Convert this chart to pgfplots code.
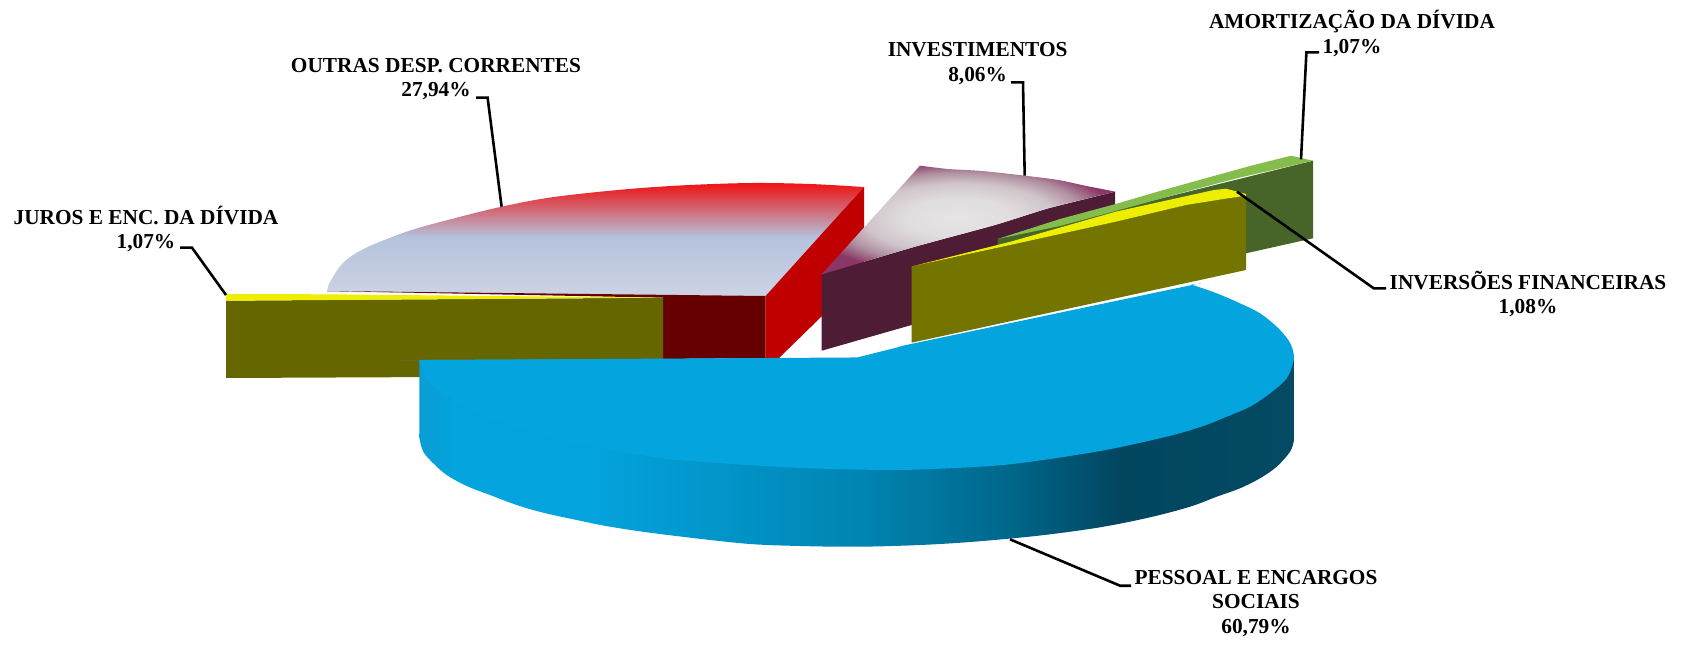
\documentclass[border=0pt]{standalone}
\usepackage{fontspec}
\setmainfont{Liberation Serif}
\usepackage{pgfplots}
\pgfplotsset{compat=1.18}
\definecolor{blueTop}{HTML}{04A4DE}
\definecolor{redSide}{HTML}{C00000}
\definecolor{redDark}{HTML}{660000}
\definecolor{oliveA}{HTML}{666600}
\definecolor{oliveB}{HTML}{747400}
\definecolor{yel}{HTML}{EEEE00}
\definecolor{plumDark}{HTML}{4F1C36}
\definecolor{greenL}{HTML}{84BD4B}
\definecolor{greenD}{HTML}{476429}
\definecolor{c1}{HTML}{CCD3E3}\definecolor{c2}{HTML}{B5C3DE}\definecolor{c3}{HTML}{EE1111}
\pgfdeclareverticalshading{redtop}{100bp}{color(0bp)=(c1);color(25bp)=(c1);color(51bp)=(c2);color(75bp)=(c3);color(100bp)=(c3)}
\definecolor{p1}{HTML}{E6E4E5}\definecolor{p2}{HTML}{E0DDDE}\definecolor{p3}{HTML}{CFC4CA}\definecolor{p4}{HTML}{B090A0}\definecolor{p5}{HTML}{8A3666}
\pgfdeclareradialshading{plumtop}{\pgfpoint{-1.8bp}{1.4bp}}{color(0bp)=(p1);color(9bp)=(p2);color(16bp)=(p3);color(21bp)=(p4);color(26bp)=(p5);color(50bp)=(p5)}
\definecolor{b0}{HTML}{0A9DD5}\definecolor{b1}{HTML}{03A3DD}\definecolor{b2}{HTML}{0085B3}\definecolor{b3}{HTML}{00688C}\definecolor{b4}{HTML}{024660}\definecolor{b5}{HTML}{044A63}
\pgfdeclarehorizontalshading{blueside}{100bp}{color(0bp)=(b0);color(25bp)=(b0);color(27bp)=(b1);color(35bp)=(b1);color(50bp)=(b2);color(58.4bp)=(b3);color(65bp)=(b4);color(75bp)=(b5);color(100bp)=(b5)}
\begin{document}
\begin{tikzpicture}
\useasboundingbox (0,0) rectangle (1686bp,651bp);
\begin{axis}[
  at={(0,0)},anchor=south west,
  width=1686bp,height=651bp,scale only axis,
  xmin=0,xmax=1686,ymin=0,ymax=651,y dir=reverse,
  hide axis,clip=true,
  every axis plot/.append style={no markers,forget plot},
]
% red slice: top, front, side
\addplot[draw=none,shade,shading=redtop,smooth,tension=0.55] coordinates {
(327,292)(327,292)(329.5,283)(343,263)(365.6,248)(408.6,231)(451.6,219)(501.6,206.7)(553.8,197)(629,189)(690,185)(752.7,183)(810,184)(864,187)(864,187)} -- (765.6,296) -- cycle;
\addplot[fill=redDark,draw=none] coordinates {(327,291)(765.6,296)(765.6,358)(663,359)(663,297.7)};
\addplot[fill=redSide,draw=none] coordinates {(765.6,296)(864,187)(864,275)(779,358)(765.6,358)} -- cycle;
% plum slice
\addplot[fill=plumDark,draw=none] coordinates {(821.7,274.3)(915,246.7)(995,225)(1048.3,208.3)(1115,191.7)(1115,206.7)(911.5,325)(821.7,350.7)} -- cycle;
\addplot[draw=none,shade,shading=plumtop,smooth,tension=0.55] coordinates {
(920,165.7)(920,165.7)(948.3,169)(981.7,171)(1025,175.7)(1058.3,180)(1085,185.7)(1108,190.2)(1115,191.7)(1115,191.7)(1108,193.4)(1048.3,208.3)(995,225)(915,246.7)(832,271.3)(821.7,274.3)(821.7,274.3)} -- cycle;
% green slice
\addplot[fill=greenD,draw=none] coordinates {(997.5,239)(1313,160.7)(1313,238.3)(1246,253.3)(997.5,300)} -- cycle;
\addplot[fill=greenL,draw=none] coordinates {(997.5,239)(1060,219)(1115.7,204)(1160,191)(1203,179)(1250,166)(1291,155.7)(1313,160.7)(1238,178)(1186,191.7)(1115.7,211)(1060,226)} -- cycle;
% inversoes slice
\addplot[fill=oliveB,draw=none] coordinates {(911.5,266.7)(1010,245)(1115.7,221.7)(1186,205)(1228,198.3)(1246,195)(1246,270)(911.5,342.7)} -- cycle;
\addplot[fill=yel,draw=none] coordinates {(911.5,266.5)(1010.5,241.7)(1115.7,211.7)(1214,190)(1226,188.7)(1246,194)(1246,195.7)(1228,198.3)(1186,205)(1115.7,221.7)(1010,245)} -- cycle;
% juros slice
\addplot[fill=oliveA,draw=none] coordinates {(226,300.7)(663,297.7)(663,376)(226,378)} -- cycle;
\addplot[fill=yel,draw=none] coordinates {(226,294)(327,294.3)(663,297.7)(226,300.7)} -- cycle;
% pessoal slice
\addplot[draw=none,shade,shading=blueside,smooth,tension=0.55] coordinates {
(419.3,360)(419.3,360)(419.3,370)(419.3,430)(419.3,437.3)(423.3,451.7)(433.3,463.3)(446.7,475)(466.7,486)(490,495)(516.7,505)(543.3,512.7)(576.7,520)(610,526.7)(660,534)(744,543.5)(800,546)(859,546.7)(920,545)(974,541.7)(1040,535.5)(1100,527.3)(1150,517.3)(1190,506.7)(1216.7,496.7)(1240,488.3)(1260,478.3)(1276.7,466.7)(1290,451.7)(1294,440)(1294,432)(1294,366)(1294,356)(1294,356)} -- cycle;
\addplot[fill=blueTop,draw=none,smooth,tension=0.55] coordinates {
(419.3,360)(419.3,360)(430,360)(850,357.5)(858,357.3)(858,357.3)(864,355.8)(905,345.5)(911,344)(911,344)(918,342.5)(1180,287.5)(1192.7,285)(1192.7,285)(1216.7,293.3)(1240,303.3)(1260,313.3)(1276.7,326.7)(1288.3,340)(1293.3,351.7)(1293.3,361.7)(1286.7,378.3)(1270,393.3)(1250,406.7)(1226.7,416.7)(1203.3,426)(1173.3,435)(1133.3,444.3)(1100,451)(1050,459)(1003,465)(945,468.5)(888,470)(802,468)(740,464.5)(687,460.7)(660,458)(593,446.7)(543,435)(476.7,413)(443,393)(430,383.3)(421,366)(419.3,360)} -- cycle;
% leader lines
\addplot[black,line width=2.6pt] coordinates {(476,97.7)(487.6,97.7)(501.6,206.7)};
\addplot[black,line width=2.6pt] coordinates {(180,247.7)(192,247.7)(226,295)};
\addplot[black,line width=2.6pt] coordinates {(1011,82.3)(1023,82.3)(1024.7,175.7)};
\addplot[black,line width=2.6pt] coordinates {(1319,52.3)(1306.4,52.3)(1301,159.3)};
\addplot[black,line width=2.6pt] coordinates {(1237,191.7)(1373.7,288.3)(1386,288.3)};
\addplot[black,line width=2.6pt] coordinates {(1010,539.3)(1120,585.7)(1131,585.7)};
% labels
\tikzset{lb/.style={font=\bfseries\fontsize{21.4}{24.8}\selectfont,align=center,anchor=center,inner sep=0pt,text=black}}
\node[lb] at (axis cs:436,79) {OUTRAS DESP. CORRENTES\\27,94\%};
\node[lb] at (axis cs:146,229) {JUROS E ENC. DA DÍVIDA\\1,07\%};
\node[lb] at (axis cs:977.6,63.7) {INVESTIMENTOS\\8,06\%};
\node[lb] at (axis cs:1352,33.5) {AMORTIZAÇÃO DA DÍVIDA\\1,07\%};
\node[lb] at (axis cs:1528,294) {INVERSÕES FINANCEIRAS\\1,08\%};
\node[lb] at (axis cs:1256,603.5) {PESSOAL E ENCARGOS\\SOCIAIS\\60,79\%};
\end{axis}
\end{tikzpicture}
\end{document}
